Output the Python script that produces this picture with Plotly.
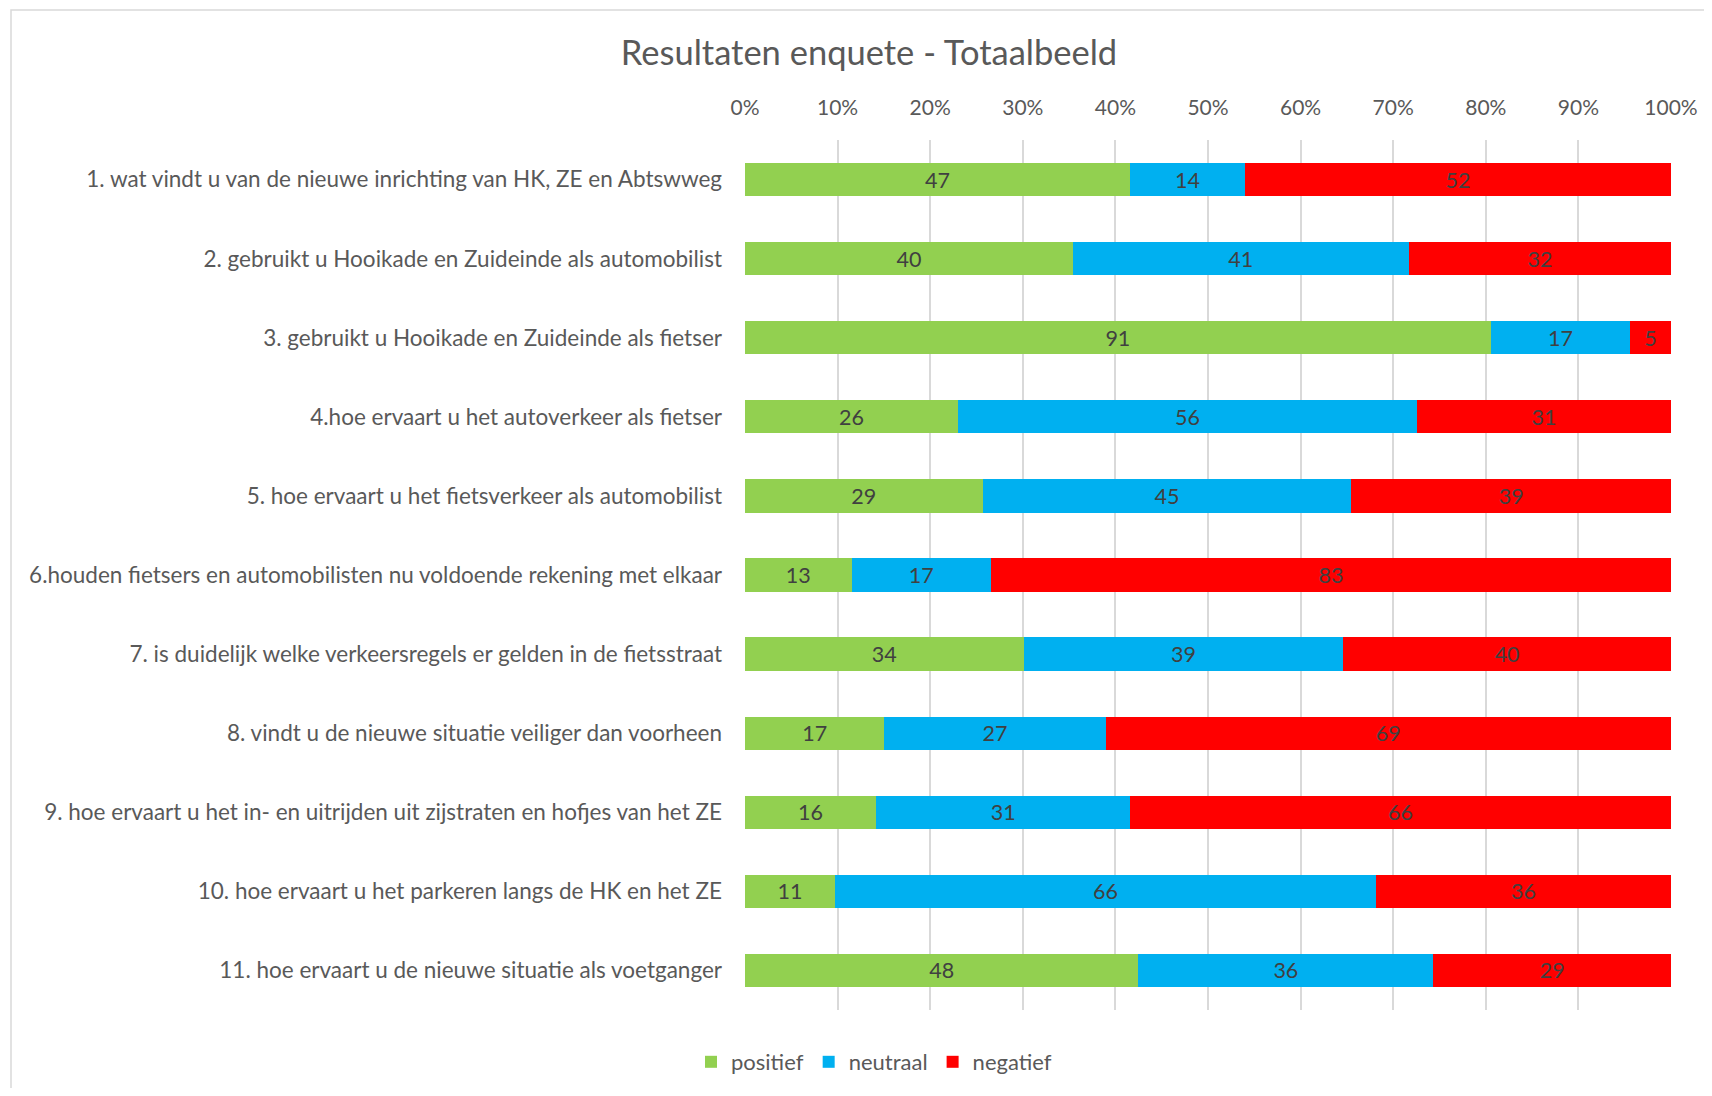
import plotly.graph_objects as go

categories = [
    "1. wat vindt u van de nieuwe inrichting van HK, ZE en Abtswweg",
    "2. gebruikt u Hooikade en Zuideinde als automobilist",
    "3. gebruikt u Hooikade en Zuideinde als fietser",
    "4.hoe ervaart u het autoverkeer als fietser",
    "5. hoe ervaart u het fietsverkeer als automobilist",
    "6.houden fietsers en automobilisten nu voldoende rekening met elkaar",
    "7. is duidelijk welke verkeersregels er gelden in de fietsstraat",
    "8. vindt u de nieuwe situatie veiliger dan voorheen",
    "9. hoe ervaart u het in- en uitrijden uit zijstraten en hofjes van het ZE",
    "10. hoe ervaart u het parkeren langs de HK en het ZE",
    "11. hoe ervaart u de nieuwe situatie als voetganger",
]
positief = [47, 40, 91, 26, 29, 13, 34, 17, 16, 11, 48]
neutraal = [14, 41, 17, 56, 45, 17, 39, 27, 31, 66, 36]
negatief = [52, 32, 5, 31, 39, 83, 40, 69, 66, 36, 29]
tick_vals = [0, 10, 20, 30, 40, 50, 60, 70, 80, 90, 100]
tick_text = [f"{v}%" for v in tick_vals]

series = [("positief", positief, "#92D050"),
          ("neutraal", neutraal, "#00B0F0"),
          ("negatief", negatief, "#FF0000")]

FONT = "Lato"
fig = go.Figure()
for name, vals, col in series:
    fig.add_trace(go.Bar(
        y=categories, x=vals, name=name, orientation="h",
        marker=dict(color=col, line=dict(width=0)),
        text=[str(v) for v in vals], textposition="inside",
        insidetextanchor="middle", textangle=0,
        textfont=dict(family=FONT, size=21.5, color="#404040"),
        hoverinfo="x+y+name",
    ))

# figure coordinates (page body has an 8px margin)
W, H = 1696, 1080
L, R, T, B = 737, 1663, 132, 1002

def px(x):
    return (x - L) / (R - L)

def py(y):
    return (B - y) / (B - T)

fig.update_layout(
    width=W, height=H,
    barmode="stack", barnorm="percent", bargap=0.58,
    paper_bgcolor="white", plot_bgcolor="white",
    margin=dict(l=L, r=W - R, t=T, b=H - B, pad=0, autoexpand=False),
    font=dict(family=FONT, color="#595959", size=21),
    title=dict(text="Resultaten enquete - Totaalbeeld", xref="container", yref="container",
               x=861 / W, y=1 - 45 / H, xanchor="center", yanchor="middle",
               font=dict(family=FONT, size=34.5, color="#595959")),
    xaxis=dict(side="top", range=[0, 100], tickvals=tick_vals, ticktext=tick_text,
               showgrid=True, gridcolor="#D9D9D9", gridwidth=1.5, zeroline=False,
               showline=False, ticks="", ticklabelstandoff=20, automargin=False,
               tickfont=dict(family=FONT, size=21, color="#595959")),
    yaxis=dict(autorange="reversed", showgrid=False, zeroline=False, showline=False,
               ticks="", ticklabelstandoff=22, automargin=False,
               tickfont=dict(family=FONT, size=22.5, color="#595959")),
    legend=dict(orientation="h", x=px(866), y=py(1054), xanchor="center", yanchor="middle",
                font=dict(family=FONT, size=22, color="#595959"), traceorder="normal",
                itemwidth=30),
    showlegend=True,
    shapes=[dict(type="rect", xref="paper", yref="paper",
                 x0=px(3), x1=px(1730), y0=py(1120), y1=py(2),
                 line=dict(color="#D9D9D9", width=1.5), fillcolor="rgba(0,0,0,0)", layer="below")],
)

fig.write_html("out.html")
